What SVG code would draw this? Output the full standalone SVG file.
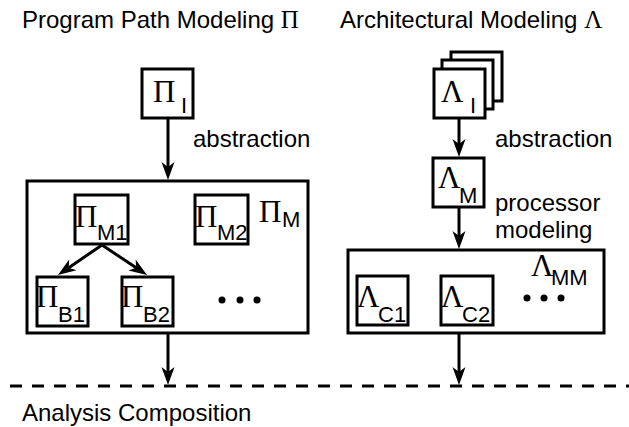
<svg xmlns="http://www.w3.org/2000/svg" width="629" height="427" viewBox="0 0 629 427">
  <style>
    .box { fill: #fff; stroke: #000; stroke-width: 3; }
    .txt { font-family: "Liberation Sans", Arial, sans-serif; font-size: 24px; fill: #000; }
    .sub { font-family: "Liberation Sans", Arial, sans-serif; font-size: 22px; fill: #000; }
    .gr { font-family: "Liberation Serif", "Times New Roman", serif; font-size: 31px; fill: #000; }
    .grt { font-family: "Liberation Serif", "Times New Roman", serif; font-size: 25px; }
    .edge { stroke: #000; stroke-width: 3; fill: none; marker-end: url(#head); }
    .dot { fill: #000; }
  </style>
  <defs>
    <marker id="head" markerUnits="userSpaceOnUse" viewBox="-6 -8 20 16" refX="0" refY="0" markerWidth="20" markerHeight="16" orient="auto" overflow="visible">
      <path d="M-5,-6.5 L13,0 L-5,6.5 L0,0 Z" fill="#000"/>
    </marker>
  </defs>

  <!-- column titles -->
  <text class="txt" x="22" y="28">Program Path Modeling <tspan class="grt">Π</tspan></text>
  <text class="txt" x="340" y="28">Architectural Modeling <tspan class="grt">Λ</tspan></text>

  <!-- program path column -->
  <g id="pi-i">
    <rect class="box" x="142" y="69" width="51" height="49"/>
    <text class="gr" x="153" y="102">Π</text>
    <text class="sub" x="181" y="113">I</text>
  </g>

  <g id="pi-m">
    <rect class="box" x="27" y="181" width="281" height="152"/>
    <text class="gr" x="259" y="222">Π</text>
    <text class="sub" x="282" y="227">M</text>
  </g>

  <g id="pi-m1">
    <rect class="box" x="75" y="195" width="53" height="49"/>
    <text class="gr" x="75" y="227">Π</text>
    <text class="sub" x="97" y="240">M1</text>
  </g>

  <g id="pi-m2">
    <rect class="box" x="195" y="195" width="53" height="49"/>
    <text class="gr" x="195" y="227">Π</text>
    <text class="sub" x="217" y="240">M2</text>
  </g>

  <g id="pi-b1">
    <rect class="box" x="37" y="277" width="51" height="49"/>
    <text class="gr" x="36" y="307">Π</text>
    <text class="sub" x="58" y="322">B1</text>
  </g>

  <g id="pi-b2">
    <rect class="box" x="122" y="277" width="51" height="49"/>
    <text class="gr" x="121" y="307">Π</text>
    <text class="sub" x="143" y="322">B2</text>
  </g>

  <g id="pi-more">
    <circle class="dot" cx="222" cy="300" r="3.5"/>
    <circle class="dot" cx="240" cy="300" r="3.5"/>
    <circle class="dot" cx="257" cy="300" r="3.5"/>
  </g>

  <!-- architectural column -->
  <g id="lambda-i">
    <rect class="box" x="451" y="52" width="51" height="49"/>
    <rect class="box" x="442" y="60" width="51" height="49"/>
    <rect class="box" x="434" y="69" width="51" height="49"/>
    <text class="gr" x="441" y="102">Λ</text>
    <text class="sub" x="470" y="113">I</text>
  </g>

  <g id="lambda-m">
    <rect class="box" x="433" y="158" width="51" height="49"/>
    <text class="gr" x="438" y="188">Λ</text>
    <text class="sub" x="459" y="203">M</text>
  </g>

  <g id="lambda-mm">
    <rect class="box" x="348" y="250" width="256" height="83"/>
    <text class="gr" x="531" y="276">Λ</text>
    <text class="sub" x="551" y="285">MM</text>
  </g>

  <g id="lambda-c1">
    <rect class="box" x="357" y="276" width="51" height="49"/>
    <text class="gr" x="357" y="307">Λ</text>
    <text class="sub" x="378" y="322">C1</text>
  </g>

  <g id="lambda-c2">
    <rect class="box" x="441" y="276" width="52" height="49"/>
    <text class="gr" x="441" y="307">Λ</text>
    <text class="sub" x="462" y="322">C2</text>
  </g>

  <g id="lambda-more">
    <circle class="dot" cx="527" cy="298" r="3.5"/>
    <circle class="dot" cx="544" cy="298" r="3.5"/>
    <circle class="dot" cx="561" cy="298" r="3.5"/>
  </g>

  <!-- connectors -->
  <g id="connectors">
    <line class="edge" x1="168" y1="118" x2="168" y2="167"/>
    <line class="edge" x1="102" y1="245" x2="68.7" y2="267.7"/>
    <line class="edge" x1="102" y1="245" x2="136.2" y2="267.8"/>
    <line class="edge" x1="168" y1="334" x2="168" y2="372"/>
    <line class="edge" x1="459" y1="118" x2="459" y2="144"/>
    <line class="edge" x1="459" y1="208" x2="459" y2="236"/>
    <line class="edge" x1="459" y1="333" x2="459" y2="372"/>
  </g>

  <!-- edge labels -->
  <text class="txt" x="193" y="147">abstraction</text>
  <text class="txt" x="495" y="147">abstraction</text>
  <text class="txt" x="495" y="211">processor</text>
  <text class="txt" x="495" y="238">modeling</text>

  <!-- composition boundary -->
  <line x1="10" y1="386" x2="629" y2="386" stroke="#000" stroke-width="3" stroke-dasharray="12 10"/>
  <text class="txt" x="22" y="421">Analysis Composition</text>
</svg>
